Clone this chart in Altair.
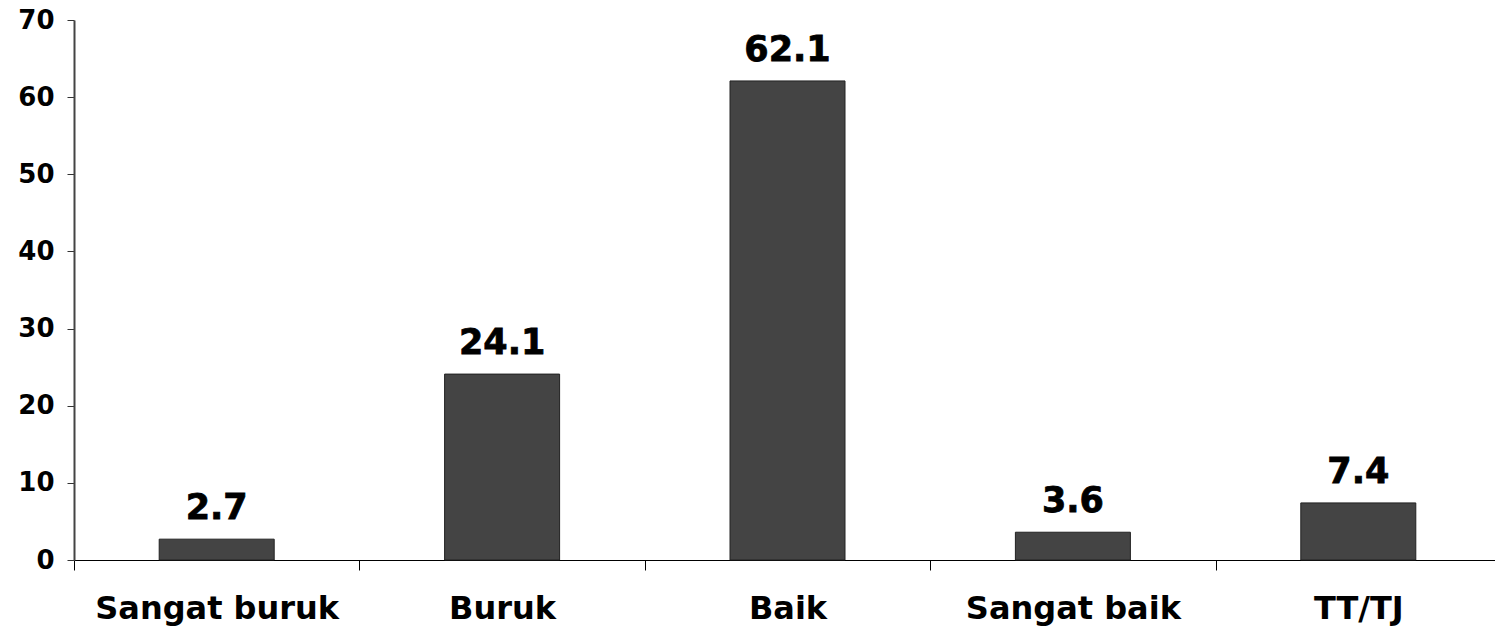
import altair as alt
import pandas as pd

# Response categories and their percentages
categories = ["Sangat buruk", "Buruk", "Baik", "Sangat baik", "TT/TJ"]
percentages = [2.7, 24.1, 62.1, 3.6, 7.4]
y_ticks = [0, 10, 20, 30, 40, 50, 60, 70]

df = pd.DataFrame({"kategori": categories, "persen": percentages})

FONT = "DejaVu Sans"

x_enc = alt.X(
    "kategori:N",
    sort=categories,
    scale=alt.Scale(paddingInner=0, paddingOuter=0, range=[0, 1427]),
    axis=alt.Axis(
        title=None,
        labelAngle=0,
        labelFont=FONT,
        labelFontSize=32,
        labelFontWeight="bold",
        labelColor="#000000",
        labelLimit=0,
        labelPadding=23,
        tickBand="extent",
        tickSize=10,
        tickColor="#000000",
        domainColor="#000000",
        domainWidth=1,
        grid=False,
    ),
)

y_enc = alt.Y(
    "persen:Q",
    scale=alt.Scale(domain=[0, 70], nice=False),
    axis=alt.Axis(
        title=None,
        values=y_ticks,
        labelFont=FONT,
        labelFontSize=26,
        labelFontWeight="bold",
        labelColor="#000000",
        labelPadding=13,
        tickSize=7,
        tickColor="#333333",
        domainColor="#444444",
        domainWidth=2,
        grid=False,
    ),
)

bars = alt.Chart(df).mark_bar(
    size=115, color="#444444", stroke="#222222", strokeWidth=1
).encode(x=x_enc, y=y_enc)

labels = alt.Chart(df).mark_text(
    font=FONT,
    fontSize=35,
    fontWeight="bold",
    color="#000000",
    stroke="#000000",
    strokeWidth=0.8,
    baseline="alphabetic",
    dy=-20,
).encode(
    x=alt.X("kategori:N", sort=categories),
    y=alt.Y("persen:Q"),
    text=alt.Text("persen:Q", format=".1f"),
)

chart = (
    alt.layer(bars, labels)
    .properties(
        width=1421,
        height=540,
        autosize=alt.AutoSizeParams(type="none"),
        padding={"left": 74, "top": 20, "right": 0, "bottom": 67},
        background="#ffffff",
    )
    .configure_view(stroke=None)
)

chart.save("out.html", embed_options={"renderer": "svg", "actions": False})
